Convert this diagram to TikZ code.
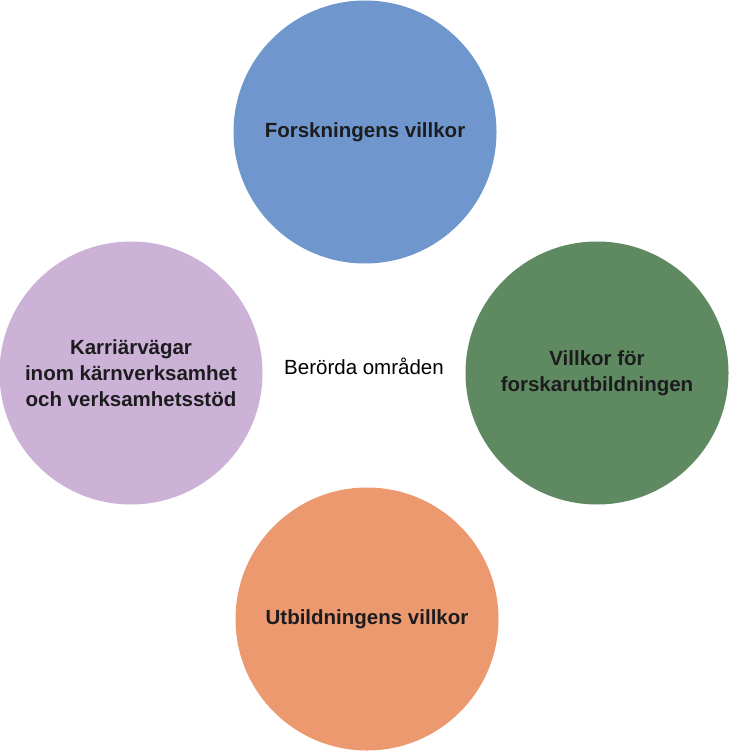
\documentclass[tikz,border=0pt]{standalone}
\usepackage{fontspec}
\setmainfont{Liberation Sans}
\usetikzlibrary{positioning}
\definecolor{forskblue}{RGB}{111,151,205}
\definecolor{forskgreen}{RGB}{94,137,97}
\definecolor{utborange}{RGB}{236,153,112}
\definecolor{karrlila}{RGB}{205,178,216}
\definecolor{textdark}{RGB}{28,28,30}

\begin{document}
\begin{tikzpicture}[x=1pt,y=-1pt,
		omr/.style={circle,minimum size=263pt,inner sep=0pt,align=center,text=textdark,
			font=\bfseries\fontsize{20.5}{26}\selectfont}]
		\useasboundingbox (0,0) rectangle (729,751);
		\node[omr,fill=forskblue]  (fv) at (365,132) {Forskningens villkor};
		\node[omr,fill=forskgreen] (vf) at (597,373) {Villkor för\\forskarutbildningen};
		\node[omr,fill=utborange]  (uv) at (367,619) {Utbildningens villkor};
		\node[omr,fill=karrlila]   (kv) at (131,373) {Karriärvägar\\inom kärnverksamhet\\och verksamhetsstöd};
		\node[font=\fontsize{20.5}{26}\selectfont] (bo) at (364,366) {Berörda områden};
\end{tikzpicture}
\end{document}
